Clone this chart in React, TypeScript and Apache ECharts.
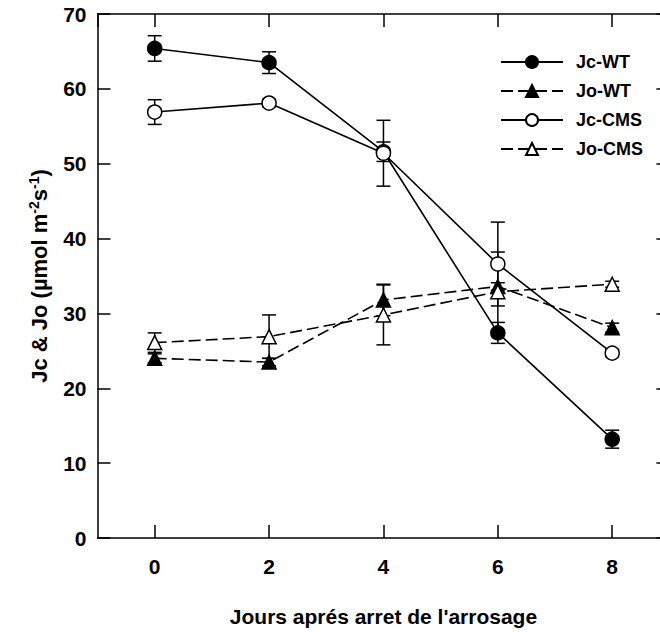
import React, { useEffect, useRef } from "react";
import * as echarts from "echarts";

const days = [0, 2, 4, 6, 8];
const jcWT = [65.4, 63.5, 51.6, 27.4, 13.2];
const jcWTErr = [1.7, 1.45, 1.3, 1.4, 1.2];
const joWT = [24.0, 23.5, 31.8, 33.6, 28.1];
const joWTErr = [0.6, 0.5, 2.1, 0.5, 0.6];
const jcCMS = [56.9, 58.1, 51.4, 36.6, 24.7];
const jcCMSErr = [1.65, 0.5, 4.4, 5.6, 0.5];
const joCMS = [26.1, 26.9, 29.8, 32.9, 33.9];
const joCMSErr = [1.3, 2.9, 4.0, 5.3, 0.4];
const seriesNames = ["Jc-WT", "Jo-WT", "Jc-CMS", "Jo-CMS"];
const xTitle = "Jours aprés arret de l'arrosage";

const FONT = "'Liberation Sans', Arial, Helvetica, sans-serif";

export default function App() {
  const ref = useRef<HTMLDivElement>(null);
  useEffect(() => {
    if (!ref.current) return;
    const chart = echarts.init(ref.current, undefined, { renderer: "svg" });
    const pts = (vals: number[]) => days.map((d, i) => [d, vals[i]]);
    const errData: number[][] = [];
    const addErr = (vals: number[], errs: number[]) =>
      days.forEach((d, i) => errData.push([d, vals[i] - errs[i], vals[i] + errs[i]]));
    addErr(jcWT, jcWTErr);
    addErr(joWT, joWTErr);
    addErr(jcCMS, jcCMSErr);
    addErr(joCMS, joCMSErr);

    const axisLine = { show: true, onZero: false, lineStyle: { color: "#000", width: 1.5 } };
    const axisTick = { show: true, inside: true, length: 13, lineStyle: { color: "#000", width: 1.5 } };
    const baseLine = (name: string, vals: number[], symbol: string, filled: boolean, dashed: boolean) => ({
      name,
      type: "line",
      data: pts(vals),
      symbol,
      symbolSize: 14,
      z: 3,
      lineStyle: { color: "#000", width: 1.6, type: dashed ? [12, 5] : "solid" },
      itemStyle: { color: filled ? "#000" : "#fff", borderColor: "#000", borderWidth: 1.5, opacity: 1 },
    });

    chart.setOption({
      animation: false,
      grid: { left: 97.5, right: 10.6, top: 14, bottom: 90 },
      legend: {
        data: seriesNames,
        orient: "vertical",
        left: 495,
        top: 48,
        itemWidth: 62,
        itemHeight: 15,
        itemGap: 11,
        selectedMode: false,
        formatter: (n: string) => "{t|" + n + "}",
        textStyle: {
          rich: {
            t: { fontFamily: FONT, fontWeight: "bold", fontSize: 18, color: "#000", lineHeight: 15, padding: [0, 0, 0, 8] },
          },
        },
      },
      xAxis: [
        {
          type: "value",
          min: -1,
          max: 9,
          splitNumber: 5,
          minInterval: 2,
          maxInterval: 2,
          axisLine,
          axisTick,
          axisLabel: {
            show: true,
            showMinLabel: false,
            showMaxLabel: false,
            margin: 18,
            fontFamily: FONT,
            fontWeight: "bold",
            fontSize: 21,
            color: "#000",
          },
          splitLine: { show: false },
          name: xTitle,
          nameLocation: "middle",
          nameGap: 68,
          nameTextStyle: { fontFamily: FONT, fontWeight: "bold", fontSize: 21, color: "#000" },
        },
        {
          type: "value",
          position: "top",
          min: -1,
          max: 9,
          splitNumber: 5,
          minInterval: 2,
          maxInterval: 2,
          axisLine,
          axisTick,
          axisLabel: { show: false },
          splitLine: { show: false },
        },
      ],
      yAxis: [
        {
          type: "value",
          min: 0,
          max: 70,
          interval: 10,
          axisLine,
          axisTick,
          axisLabel: { margin: 11, fontFamily: FONT, fontWeight: "bold", fontSize: 21, color: "#000" },
          splitLine: { show: false },
          name: "{a|Jc & Jo (µmol m}{s|-2}{a|s}{s|-1}{a|)}",
          nameLocation: "middle",
          nameRotate: 90,
          nameGap: 46,
          nameTextStyle: {
            rich: {
              a: { fontFamily: FONT, fontWeight: "bold", fontSize: 22, color: "#000", lineHeight: 25 },
              s: { fontFamily: FONT, fontWeight: "bold", fontSize: 14, color: "#000", lineHeight: 12, verticalAlign: "top" },
            },
          },
        },
        {
          type: "value",
          position: "right",
          min: 0,
          max: 70,
          interval: 10,
          axisLine,
          axisTick,
          axisLabel: { show: false },
          splitLine: { show: false },
        },
      ],
      series: [
        {
          type: "custom",
          name: "err",
          z: 1,
          silent: true,
          data: errData,
          encode: { x: 0, y: [1, 2] },
          renderItem: (_params: any, api: any) => {
            const x = api.value(0);
            const lo = api.coord([x, api.value(1)]);
            const hi = api.coord([x, api.value(2)]);
            const hw = 7;
            const st = { stroke: "#000", lineWidth: 1.5 };
            return {
              type: "group",
              children: [
                { type: "line", shape: { x1: lo[0], y1: lo[1], x2: hi[0], y2: hi[1] }, style: st },
                { type: "line", shape: { x1: lo[0] - hw, y1: lo[1], x2: lo[0] + hw, y2: lo[1] }, style: st },
                { type: "line", shape: { x1: hi[0] - hw, y1: hi[1], x2: hi[0] + hw, y2: hi[1] }, style: st },
              ],
            };
          },
        },
        baseLine("Jc-WT", jcWT, "circle", true, false),
        baseLine("Jo-WT", joWT, "triangle", true, true),
        baseLine("Jc-CMS", jcCMS, "circle", false, false),
        baseLine("Jo-CMS", joCMS, "triangle", false, true),
      ],
    });
    return () => chart.dispose();
  }, []);
  return (
    <div style={{ position: "fixed", left: 0, top: 0, width: 660, height: 632, overflow: "hidden", background: "#fff" }}>
      <div ref={ref} style={{ width: 680, height: 632 }} />
    </div>
  );
}
